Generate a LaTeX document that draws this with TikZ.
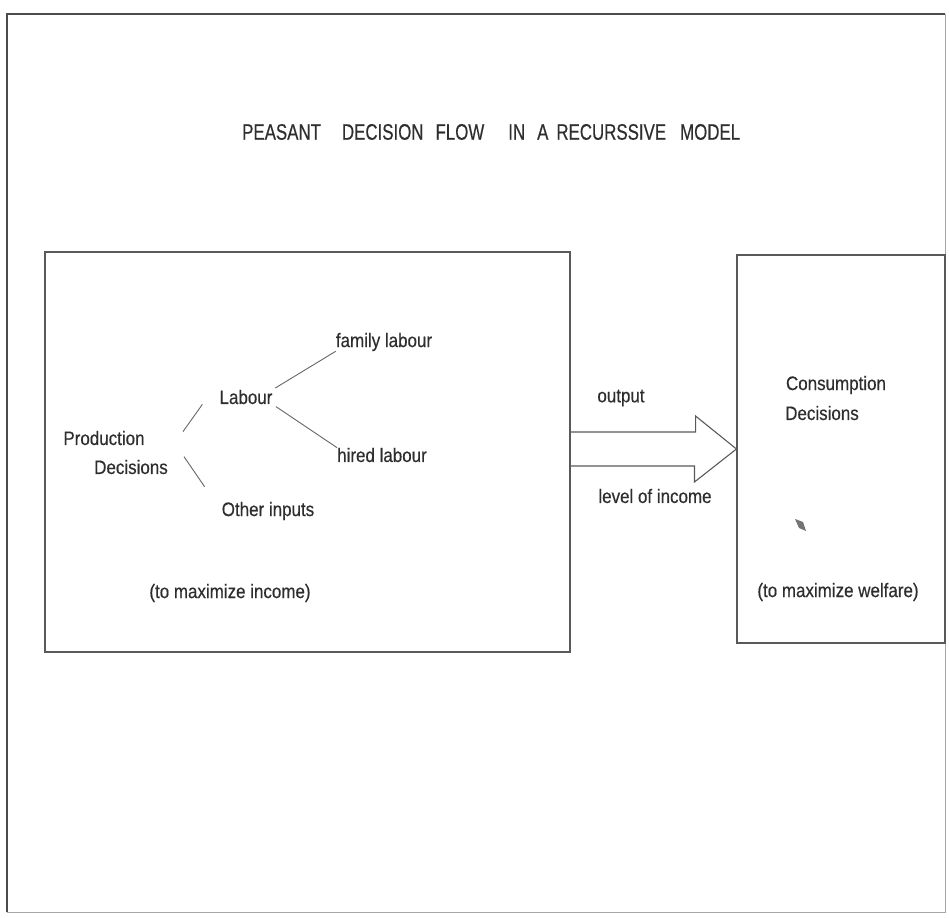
\documentclass[tikz,border=0pt]{standalone}
\usepackage{fontspec}
\setmainfont{Liberation Sans}
\newfontfamily\bodyfont[FakeStretch=0.87,FakeBold=0.4]{Liberation Sans}
\newfontfamily\titlefont[FakeStretch=0.75,FakeBold=0.4]{Liberation Sans}

\tikzset{
  lbl/.style={font=\bodyfont\fontsize{19.5}{22}\selectfont, text=black!82, inner sep=0pt},
  heading/.style={font=\titlefont\fontsize{22.5}{25}\selectfont, text=black!82, inner sep=0pt},
  panel/.style={draw=black!65, line width=1.1pt},
  branch/.style={draw=black!60, line width=0.9pt},
  flow/.style={draw=black!65, line width=1.1pt, line join=miter},
}

\begin{document}
\begin{tikzpicture}[x=1pt,y=-1pt]
    \useasboundingbox (0,0) rectangle (949,917);
    % outer frame (left and top printed darker)
    \draw[black!70, line width=1.6pt] (7,912) -- (7,14) -- (945,14);
    \draw[black!35, line width=0.8pt] (945,14) -- (945,912) -- (7,912);
    % title
    \node[heading, anchor=west] (title) at (242,132)
      {PEASANT\hspace{21pt}DECISION\hspace{12pt}FLOW\hspace{24pt}IN\hspace{12pt}A\hspace{8pt}RECURSSIVE\hspace{14pt}MODEL};
    % the two decision boxes
    \node[panel, minimum width=525pt, minimum height=400pt] (prodbox) at (307.5,452) {};
    \node[panel, minimum width=208pt, minimum height=388pt] (consbox) at (841,449) {};
    % labels: {name/x/y/text}
    \foreach \n/\x/\y/\t in {prod/104/438/Production, pdec/131/467/Decisions,
        labour/246/397/Labour, family/384/342/family labour, hired/382/455/hired labour,
        other/268/511/Other inputs, inc/230/593/{(to maximize income)},
        output/621/398/output, level/655/496/level of income,
        cons/836/385/Consumption, cdec/822/413/Decisions, welf/838/592/{(to maximize welfare)}}
      \node[lbl] (\n) at (\x,\y) {\t};
    % branches of the production choice
    \draw[branch] ([shift={(15,-28)}]pdec.north east) -- ([xshift=-17pt]labour.south west);
    \draw[branch] ([shift={(16,-3)}]pdec.north east) -- ([shift={(-17,-15)}]other.north west);
    \draw[branch, shorten <=3pt] (labour.north east) -- (family.south west);
    \draw[branch, shorten <=4pt] (labour.south east) -- (hired.north west);
    % block arrow into the consumption box
    \draw[flow] (prodbox.east |- consbox.west) ++(0,-17) -- ++(125,0) -- ++(0,-16)
      -- (consbox.west) -- ++(-42,33) -- ++(0,-16) -- ++(-125,0);
    % ink spot
    \fill[black!55] (795,519) -- (803,522) -- (806,531) -- (799,528) -- cycle;
\end{tikzpicture}
\end{document}
